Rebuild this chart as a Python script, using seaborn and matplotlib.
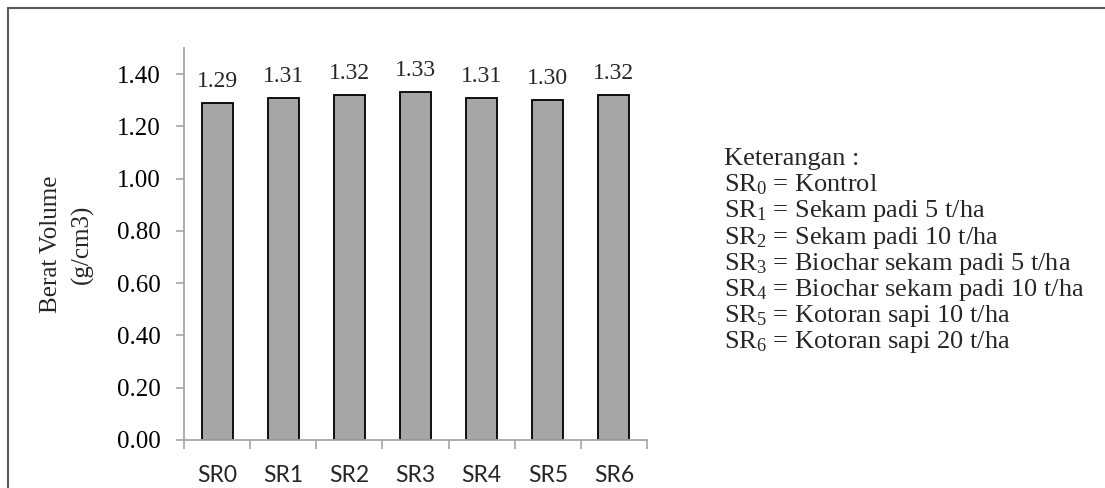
import matplotlib
matplotlib.use("Agg")
import matplotlib.pyplot as plt
from matplotlib.lines import Line2D
import seaborn as sns

# data
categories = ["SR0", "SR1", "SR2", "SR3", "SR4", "SR5", "SR6"]
berat_volume = [1.29, 1.31, 1.32, 1.33, 1.31, 1.30, 1.32]
bar_labels = ["1.29", "1.31", "1.32", "1.33", "1.31", "1.30", "1.32"]
y_ticks = [0.0, 0.2, 0.4, 0.6, 0.8, 1.0, 1.2, 1.4]
keterangan = [
    "Keterangan :",
    "SR$_\\mathrm{0}$ = Kontrol",
    "SR$_\\mathrm{1}$ = Sekam padi 5 t/ha",
    "SR$_\\mathrm{2}$ = Sekam padi 10 t/ha",
    "SR$_\\mathrm{3}$ = Biochar sekam padi 5 t/ha",
    "SR$_\\mathrm{4}$ = Biochar sekam padi 10 t/ha",
    "SR$_\\mathrm{5}$ = Kotoran sapi 10 t/ha",
    "SR$_\\mathrm{6}$ = Kotoran sapi 20 t/ha",
]

sns.set_style("white")
plt.rcParams["font.family"] = ["Liberation Serif", "DejaVu Serif"]
plt.rcParams["mathtext.fontset"] = "custom"
plt.rcParams["mathtext.rm"] = "Liberation Serif"
plt.rcParams["mathtext.it"] = "Liberation Serif:italic"
plt.rcParams["mathtext.default"] = "regular"

W, H = 1105, 488
fig = plt.figure(figsize=(W / 100, H / 100), dpi=100)
fig.patch.set_facecolor("white")

# outer frame (top and left only visible)
frame_col = "#5a5a5a"
fig.add_artist(Line2D([8 / W, 1], [1 - 7.5 / H, 1 - 7.5 / H], color=frame_col, lw=1.5,
                      transform=fig.transFigure))
fig.add_artist(Line2D([8 / W, 8 / W], [0, 1 - 7.5 / H], color=frame_col, lw=1.5,
                      transform=fig.transFigure))

ax = fig.add_axes([184 / W, 1 - 440 / H, 463 / W, 392 / H])
sns.barplot(x=categories, y=berat_volume, color="#A6A6A6", saturation=1,
            edgecolor="black", linewidth=1.3, width=0.47, ax=ax)

ax.set_xlim(-0.5, 6.5)
ax.set_ylim(0, 1.5)
ax.set_yticks(y_ticks)
ax.set_yticklabels([f"{v:.2f}" for v in y_ticks], fontsize=18)
ax.set_xlabel("")
ax.set_ylabel("")

axis_col = "#A6A6A6"
for side in ["top", "right"]:
    ax.spines[side].set_visible(False)
for side in ["left", "bottom"]:
    ax.spines[side].set_color(axis_col)
    ax.spines[side].set_linewidth(1.3)

ax.tick_params(axis="y", direction="out", length=5.5, width=1.2, color=axis_col,
               pad=11, left=True, labelcolor="black")
# category boundary ticks on x
ax.set_xticks([i - 0.5 for i in range(len(categories) + 1)], minor=True)
ax.tick_params(axis="x", which="minor", direction="out", length=6.5, width=1.2,
               color=axis_col, bottom=True)
ax.tick_params(axis="x", which="major", length=0, pad=18, bottom=True)
for lab in ax.get_xticklabels():
    lab.set_fontfamily(["Lato", "DejaVu Sans"])
    lab.set_fontsize(16.5)

ax.bar_label(ax.containers[0], labels=bar_labels, padding=8, fontsize=17)

fig.text(67 / W, 1 - 244 / H, "Berat Volume\n(g/cm3)", rotation=90, ha="center",
         va="center", multialignment="center", fontsize=18, linespacing=1.45)

y0 = 165
for i, line in enumerate(keterangan):
    fig.text(724 / W, 1 - (y0 + i * 26.2) / H, line, ha="left", va="baseline",
             fontsize=19)

fig.savefig("out.png", dpi=100, facecolor="white")
